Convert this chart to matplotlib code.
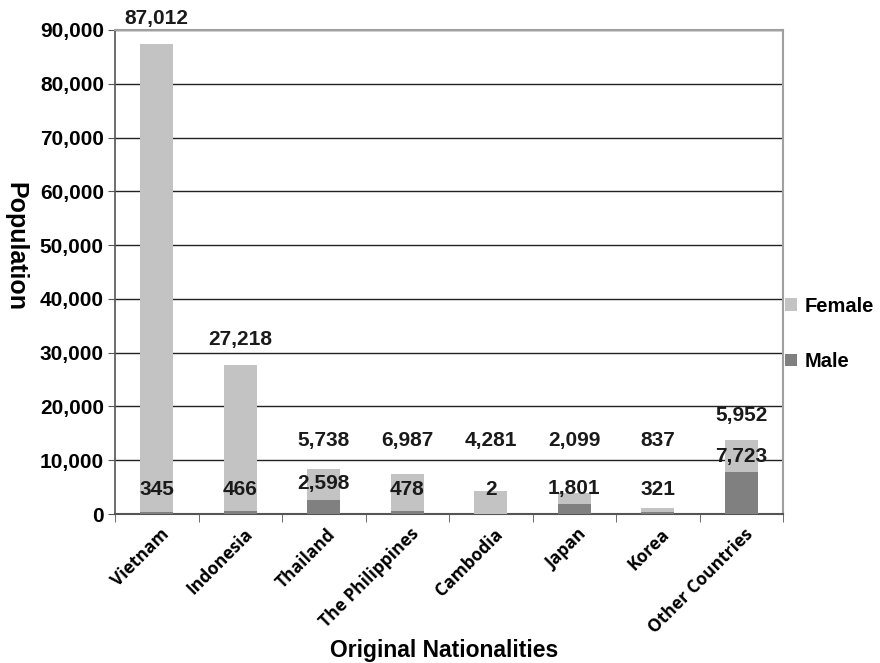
import matplotlib.pyplot as plt
import numpy as np
from matplotlib.ticker import FuncFormatter, FixedLocator
from matplotlib.transforms import ScaledTranslation

countries = ["Vietnam", "Indonesia", "Thailand", "The Philippines",
             "Cambodia", "Japan", "Korea", "Other Countries"]
male = [345, 466, 2598, 478, 2, 1801, 321, 7723]
female = [87012, 27218, 5738, 6987, 4281, 2099, 837, 5952]

plt.rcParams['font.family'] = ['Liberation Sans', 'DejaVu Sans']

fig = plt.figure(figsize=(8.8, 6.63), dpi=100)
ax = fig.add_axes([115 / 880, 1 - 514 / 663, (783 - 115) / 880, (514 - 30) / 663])

x = np.arange(len(countries))
male_arr = np.array(male)
female_arr = np.array(female)
total = male_arr + female_arr

ax.bar(x, male_arr, width=0.4, color="#808080", label="Male", zorder=3)
ax.bar(x, female_arr, bottom=male_arr, width=0.4, color="#c3c3c3", label="Female", zorder=3)

# value labels
for i in range(len(countries)):
    ax.text(x[i], max(total[i], 9000) + 4700, f"{female[i]:,}", ha="center", va="center",
            fontsize=15, fontweight="bold", color="#1a1a1a", zorder=4)
    ax.text(x[i], max(male[i], 1500) + 3000, f"{male[i]:,}", ha="center", va="center",
            fontsize=15, fontweight="bold", color="#1a1a1a", zorder=4)

ax.set_xlim(-0.5, len(countries) - 0.5)
ax.set_ylim(0, 90000)
ax.yaxis.set_major_locator(FixedLocator(np.arange(0, 90001, 10000)))
ax.yaxis.set_major_formatter(FuncFormatter(lambda v, p: f"{int(v):,}"))
ax.grid(axis="y", color="#222222", linewidth=1.0, zorder=0)

ax.set_xticks(x)
ax.set_xticklabels(countries, rotation=45, ha="right", va="top", rotation_mode="anchor",
                   fontsize=12.5, fontweight="bold",
                   family=["Open Sans", "DejaVu Sans"])
ax.tick_params(axis="x", length=0, pad=8)
shift = ScaledTranslation(3 / 100, 0, fig.dpi_scale_trans)
for lab in ax.get_xticklabels():
    lab.set_transform(lab.get_transform() + shift)
ax.set_xticks(np.arange(-0.5, len(countries) + 0.5, 1), minor=True)
ax.tick_params(axis="x", which="minor", length=6, color="#555555")
ax.tick_params(axis="y", length=5, color="#555555", labelsize=15, pad=3)
for lab in ax.get_yticklabels():
    lab.set_fontweight("bold")

for side in ["top", "right"]:
    ax.spines[side].set_color("#a0a0a0")
    ax.spines[side].set_linewidth(1.5)
ax.spines["left"].set_color("#555555")
ax.spines["bottom"].set_color("#555555")
ax.spines["left"].set_linewidth(1.2)
ax.spines["bottom"].set_linewidth(1.5)

fig.text(15 / 880, 1 - 246 / 663, "Population", rotation=-90, ha="center", va="center",
         fontsize=18, fontweight="bold")
fig.text(0.5 * (115 + 783) / 880 - 0.005, 1 - 651 / 663, "Original Nationalities", ha="center",
         va="center", fontsize=16.5, fontweight="bold")

handles, labels = ax.get_legend_handles_labels()
leg = fig.legend(handles[::-1], labels[::-1], loc="center left",
                 bbox_to_anchor=(767 / 880, 1 - 334 / 663), frameon=False,
                 prop={"weight": "bold", "size": 14.5}, handlelength=0.6,
                 handleheight=0.6, handletextpad=0.35, labelspacing=1.8)

plt.savefig("out.png", dpi=100)
plt.close()
